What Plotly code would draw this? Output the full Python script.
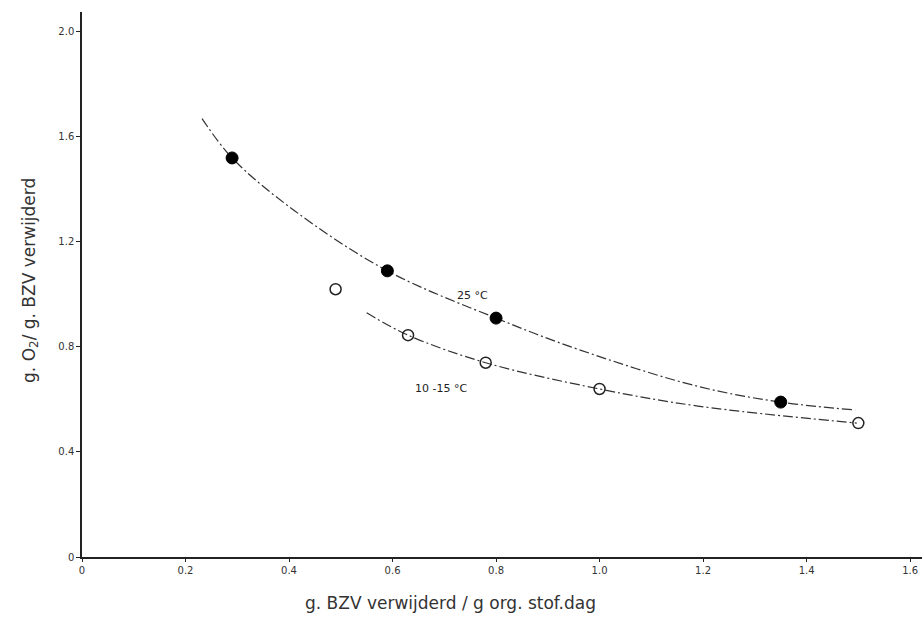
import plotly.graph_objects as go

# 25 °C measured points (filled)
warm_x = [0.29, 0.59, 0.80, 1.35]
warm_y = [1.52, 1.09, 0.91, 0.59]
# 25 °C fitted curve
warm_curve_x = [0.232, 0.29, 0.41, 0.59, 0.80, 0.96, 1.19, 1.35, 1.494]
warm_curve_y = [1.67, 1.52, 1.32, 1.09, 0.91, 0.79, 0.65, 0.59, 0.56]

# 10-15 °C measured points (open)
cold_x = [0.49, 0.63, 0.78, 1.00, 1.50]
cold_y = [1.02, 0.845, 0.74, 0.64, 0.51]
# 10-15 °C fitted curve
cold_curve_x = [0.55, 0.63, 0.78, 1.00, 1.19, 1.497]
cold_curve_y = [0.93, 0.845, 0.74, 0.64, 0.575, 0.51]

x_ticks = [0, 0.2, 0.4, 0.6, 0.8, 1.0, 1.2, 1.4, 1.6]
x_tick_labels = ["0", "0.2", "0.4", "0.6", "0.8", "1.0", "1.2", "1.4", "1.6"]
y_ticks = [0, 0.4, 0.8, 1.2, 1.6, 2.0]
y_tick_labels = ["0", "0.4", "0.8", "1.2", "1.6", "2.0"]

line_col = "#333333"
fig = go.Figure()
fig.add_trace(go.Scatter(x=warm_curve_x, y=warm_curve_y, mode="lines",
                         line=dict(color=line_col, width=1.2, shape="spline", dash="10px,3px,2px,3px"),
                         hoverinfo="skip", showlegend=False))
fig.add_trace(go.Scatter(x=cold_curve_x, y=cold_curve_y, mode="lines",
                         line=dict(color=line_col, width=1.2, shape="spline", dash="10px,3px,2px,3px"),
                         hoverinfo="skip", showlegend=False))
fig.add_trace(go.Scatter(x=warm_x, y=warm_y, mode="markers",
                         marker=dict(symbol="circle", size=12, color="black",
                                     line=dict(color="black", width=1)),
                         showlegend=False))
fig.add_trace(go.Scatter(x=cold_x, y=cold_y, mode="markers",
                         marker=dict(symbol="circle-open", size=11, color="#222222",
                                     line=dict(width=1.5)),
                         showlegend=False))

fig.add_annotation(x=0.755, y=0.995, text="25 °C", showarrow=False,
                   font=dict(family="DejaVu Sans", size=11, color="#222"))
fig.add_annotation(x=0.694, y=0.64, text="10 -15 °C", showarrow=False,
                   font=dict(family="DejaVu Sans", size=11, color="#222"))

fig.update_layout(
    width=922, height=626,
    margin=dict(l=82, r=0, t=12, b=69),
    paper_bgcolor="white", plot_bgcolor="white",
    font=dict(family="DejaVu Sans", color="#222"),
    xaxis=dict(range=[0, 1.623], tickvals=x_ticks, ticktext=x_tick_labels,
               showgrid=False, zeroline=False, showline=True, linecolor="#222", linewidth=1.5,
               ticks="outside", ticklen=3, tickcolor="#222",
               tickfont=dict(size=10, color="#333")),
    yaxis=dict(range=[0, 2.076], tickvals=y_ticks, ticktext=y_tick_labels,
               showgrid=False, zeroline=False, showline=True, linecolor="#222", linewidth=1.5,
               ticks="outside", ticklen=4, tickcolor="#222",
               tickfont=dict(size=10, color="#333")),
    annotations=list(fig.layout.annotations) + [
        dict(text="g. BZV verwijderd / g org. stof.dag", xref="paper", yref="paper",
             x=(450 - 82) / 840, y=-0.085, xanchor="center", yanchor="middle", showarrow=False,
             font=dict(size=17, color="#333")),
        dict(text="g. O<sub>2</sub>/ g. BZV verwijderd", xref="paper", yref="paper",
             x=-0.062, y=(557 - 280) / 545, xanchor="center", yanchor="middle", textangle=-90,
             showarrow=False, font=dict(size=17, color="#333")),
    ],
)
fig.write_html("out.html")
